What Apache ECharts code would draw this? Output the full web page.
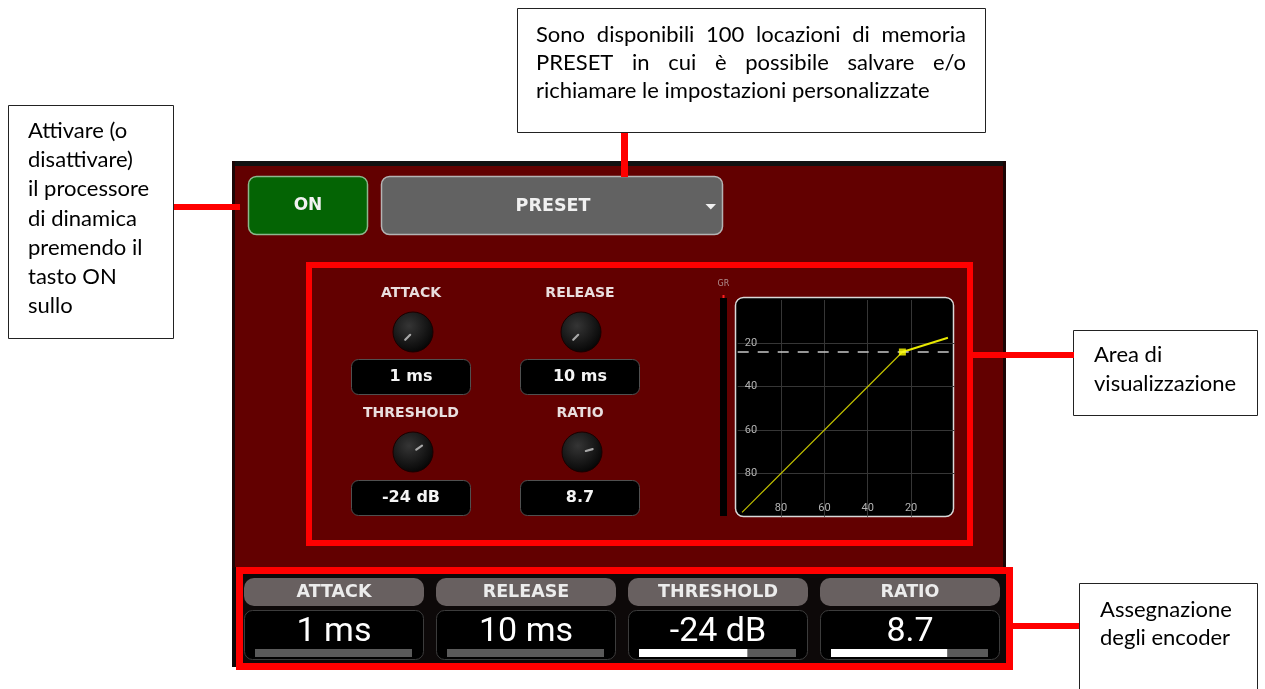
<!DOCTYPE html>
<html>
<head>
<meta charset="utf-8">
<script src="https://cdn.jsdelivr.net/npm/echarts@6/dist/echarts.min.js"></script>
<style>
html,body{margin:0;padding:0;background:#ffffff;}
#chart{width:1265px;height:689px;}
</style>
</head>
<body>
<div id="chart"></div>
<script>
// ---------- data ----------
const curveInputDb  = [-98, -24, -3];      // input level of curve points (dB)
const curveOutputDb = [-98, -24, -17.4];   // output level of curve points (dB)
const thresholdDb = -24;
const axisTickValues = [-80, -60, -40, -20];
const paramNames  = ['ATTACK', 'RELEASE', 'THRESHOLD', 'RATIO'];
const paramValues = ['1 ms', '10 ms', '-24 dB', '8.7'];
const encoderFill = [0, 0, 0.69, 0.74];
const noteLeft  = ['Attivare (o', 'disattivare)', 'il processore', 'di dinamica', 'premendo il', 'tasto ON', 'sullo'];
const noteTop   = ['Sono disponibili 100 locazioni di memoria', 'PRESET in cui è possibile salvare e/o', 'richiamare le impostazioni personalizzate'];
const noteRight1 = ['Area di', 'visualizzazione'];
const noteRight2 = ['Assegnazione', 'degli encoder'];

// ---------- helpers ----------
const chart = echarts.init(document.getElementById('chart'), null, {renderer: 'canvas'});
const G = [];
const NOTE_FONT = '22px Lato';
const UI = '"DejaVu Sans"';
function rect(x, y, w, h, style, r, z) {
  G.push({type: 'rect', shape: {x: x, y: y, width: w, height: h, r: r || 0}, style: style, z: z === undefined ? -1 : z, silent: true});
}
function text(x, y, str, font, fill, align, z) {
  G.push({type: 'text', x: x, y: y, style: {text: str, font: font, fill: fill, textAlign: align || 'left', textVerticalAlign: 'middle'}, z: z === undefined ? 1 : z, silent: true});
}
const mctx = document.createElement('canvas').getContext('2d');
function justify(line, x0, x1, y, font) {
  mctx.font = font;
  const words = line.split(' ');
  const ws = words.map(w => mctx.measureText(w).width);
  const total = ws.reduce((a, b) => a + b, 0);
  const gap = (x1 - x0 - total) / (words.length - 1);
  let x = x0;
  words.forEach((w, i) => { text(x, y, w, font, '#000', 'left'); x += ws[i] + gap; });
}

// ---------- device panel ----------
rect(232, 161, 774, 6, {fill: '#111'}, 0, -5);
rect(232, 166, 774, 402, {fill: '#620000'}, 0, -5);
rect(232, 161, 3, 407, {fill: '#1c0505'}, 0, -4);
rect(1003, 161, 3, 407, {fill: '#1c0505'}, 0, -4);
rect(232, 567, 778, 100, {fill: '#0d0909'}, 0, -5);

// ON and PRESET buttons
rect(248.5, 176.5, 119, 58, {fill: '#046404', stroke: '#8cb88c', lineWidth: 1.5}, 8, -3);
text(308, 206, 'ON', 'bold 17px ' + UI, '#f2f2f2', 'center');
rect(381.5, 176.5, 341, 58, {fill: '#626262', stroke: '#b4b4b4', lineWidth: 1.5}, 8, -3);
text(553, 206, 'PRESET', 'bold 17.5px ' + UI, '#f0f0f0', 'center');
G.push({type: 'polygon', shape: {points: [[705.5, 204], [716, 204], [710.8, 209.5]]}, style: {fill: '#f0f0f0'}, z: 1, silent: true});

// knob section
const knobCx = [413, 581, 413, 582];
const knobCy = [332, 332, 452, 452];
const knobAngle = [135, 135, -35, -15];
for (let i = 0; i < 4; i++) {
  const cx = knobCx[i], cy = knobCy[i];
  text(i % 2 === 0 ? 411 : 580, cy - 39, paramNames[i], 'bold 14px ' + UI, '#e9dede', 'center');
  G.push({type: 'circle', shape: {cx: cx, cy: cy, r: 20},
    style: {fill: new echarts.graphic.RadialGradient(0.4, 0.35, 0.75, [{offset: 0, color: '#353535'}, {offset: 1, color: '#000'}]), stroke: '#1a0000', lineWidth: 1}, z: -2, silent: true});
  const a = knobAngle[i] * Math.PI / 180;
  G.push({type: 'line', shape: {x1: cx + 4 * Math.cos(a), y1: cy + 4 * Math.sin(a), x2: cx + 11 * Math.cos(a), y2: cy + 11 * Math.sin(a)},
    style: {stroke: '#a8a8a8', lineWidth: 2.2, lineCap: 'round'}, z: 1, silent: true});
  const bx = i % 2 === 0 ? 351 : 520;
  const by = i < 2 ? 359 : 480;
  rect(bx + 0.5, by + 0.5, 119, 35, {fill: '#000', stroke: '#505050', lineWidth: 1}, 7, -2);
  text(bx + 60, by + 18, paramValues[i], 'bold 16px ' + UI, '#f4f4f4', 'center');
}

// GR meter
text(723.5, 284, 'GR', '8px ' + UI, '#b09090', 'center');
rect(722.5, 295, 2, 3, {fill: '#ff2020'}, 0, 0);
rect(720, 298, 7, 218, {fill: '#000'}, 0, -2);

// transfer-curve display background
rect(735.5, 297.5, 218, 219, {fill: '#000', stroke: '#d8d8d8', lineWidth: 1.5}, 8, -2);

// encoder row
const cellX = [244, 436, 628, 820];
for (let i = 0; i < 4; i++) {
  const x = cellX[i];
  rect(x, 578, 180, 28, {fill: '#686060'}, 10, -2);
  text(x + 90, 592.5, paramNames[i], 'bold 17.5px ' + UI, '#ececec', 'center');
  rect(x + 0.5, 610.5, 179, 49, {fill: '#000', stroke: '#3c3c3c', lineWidth: 1}, 8, -2);
  text(x + 90, 632, paramValues[i], '34px Roboto', '#ffffff', 'center');
}

// red highlight frames and connectors
G.push({type: 'rect', shape: {x: 309, y: 265, width: 661, height: 278}, style: {fill: null, stroke: '#ff0000', lineWidth: 6}, z: 3, silent: true});
G.push({type: 'rect', shape: {x: 239.5, y: 570.5, width: 770, height: 96}, style: {fill: null, stroke: '#ff0000', lineWidth: 7}, z: 3, silent: true});
rect(174, 204, 66, 6, {fill: '#ff0000'}, 0, 3);
rect(621, 133, 7, 44, {fill: '#ff0000'}, 0, 3);
rect(973, 352, 101, 6, {fill: '#ff0000'}, 0, 3);
rect(1013, 623, 66, 6, {fill: '#ff0000'}, 0, 3);

// annotation boxes
rect(8.5, 105.5, 165, 233, {fill: '#fff', stroke: '#222', lineWidth: 1}, 0, 0);
noteLeft.forEach((l, i) => text(28, 131 + i * 29.2, l, NOTE_FONT, '#000', 'left'));
rect(517.5, 8.5, 468, 124, {fill: '#fff', stroke: '#222', lineWidth: 1}, 0, 0);
justify(noteTop[0], 536, 966, 35, NOTE_FONT);
justify(noteTop[1], 536, 966, 63, NOTE_FONT);
text(536, 91, noteTop[2], NOTE_FONT, '#000', 'left');
rect(1073.5, 330.5, 184, 85, {fill: '#fff', stroke: '#222', lineWidth: 1}, 0, 0);
noteRight1.forEach((l, i) => text(1094, 355 + i * 29, l, NOTE_FONT, '#000', 'left'));
rect(1079.5, 583.5, 178, 115, {fill: '#fff', stroke: '#222', lineWidth: 1}, 0, 0);
noteRight2.forEach((l, i) => text(1100, 610 + i * 28, l, NOTE_FONT, '#000', 'left'));

// ---------- chart ----------
const curveData = curveInputDb.map((v, i) => [v, curveOutputDb[i]]);
const labelFmt = v => axisTickValues.indexOf(v) >= 0 ? String(Math.abs(v)) : '';
const grids = [{left: 737.7, top: 300, width: 216.7, height: 216.7}];
const xAxes = [{
  type: 'value', gridIndex: 0, min: -100, max: 0, interval: 20,
  axisLine: {show: false}, axisTick: {show: false},
  splitLine: {show: true, showMinLine: false, showMaxLine: false, lineStyle: {color: '#363636', width: 1}},
  axisLabel: {inside: true, margin: 3, color: '#b4b4b4', fontSize: 11, fontFamily: 'Roboto', formatter: labelFmt, showMinLabel: false, showMaxLabel: false}
}];
const yAxes = [{
  type: 'value', gridIndex: 0, min: -100, max: 0, interval: 20,
  axisLine: {show: false}, axisTick: {show: false},
  splitLine: {show: true, showMinLine: false, showMaxLine: false, lineStyle: {color: '#363636', width: 1}},
  axisLabel: {inside: true, margin: 7, color: '#b4b4b4', fontSize: 11, fontFamily: 'Roboto', formatter: labelFmt, showMinLabel: false, showMaxLabel: false}
}];
const series = [
  {type: 'line', xAxisIndex: 0, yAxisIndex: 0, data: curveData.slice(0, 2), symbol: 'none',
   lineStyle: {color: '#c4c400', width: 1.2}, z: 3, silent: true},
  {type: 'line', xAxisIndex: 0, yAxisIndex: 0, data: curveData.slice(1), symbol: 'none',
   lineStyle: {color: '#e8e800', width: 2}, z: 3, silent: true},
  {type: 'scatter', xAxisIndex: 0, yAxisIndex: 0, data: [[thresholdDb, thresholdDb]], symbol: 'rect', symbolSize: 7,
   itemStyle: {color: '#ffff00'}, z: 5, silent: true,
   markLine: {silent: true, symbol: 'none', label: {show: false},
     lineStyle: {color: '#c8c8c8', type: [11, 9], width: 1.5},
     data: [{yAxis: thresholdDb}]}}
];
for (let i = 0; i < 4; i++) {
  grids.push({left: cellX[i] + 11, top: 649, width: 157, height: 8});
  xAxes.push({type: 'value', gridIndex: i + 1, min: 0, max: 1, show: false});
  yAxes.push({type: 'category', gridIndex: i + 1, data: [paramNames[i]], show: false});
  series.push({type: 'bar', xAxisIndex: i + 1, yAxisIndex: i + 1, data: [encoderFill[i]], barWidth: 8,
    itemStyle: {color: '#ffffff'}, showBackground: true, backgroundStyle: {color: '#5a5a5a'}, silent: true});
}

chart.setOption({
  animation: false,
  backgroundColor: '#ffffff',
  grid: grids, xAxis: xAxes, yAxis: yAxes, series: series,
  graphic: {elements: G}
});
</script>
</body>
</html>
